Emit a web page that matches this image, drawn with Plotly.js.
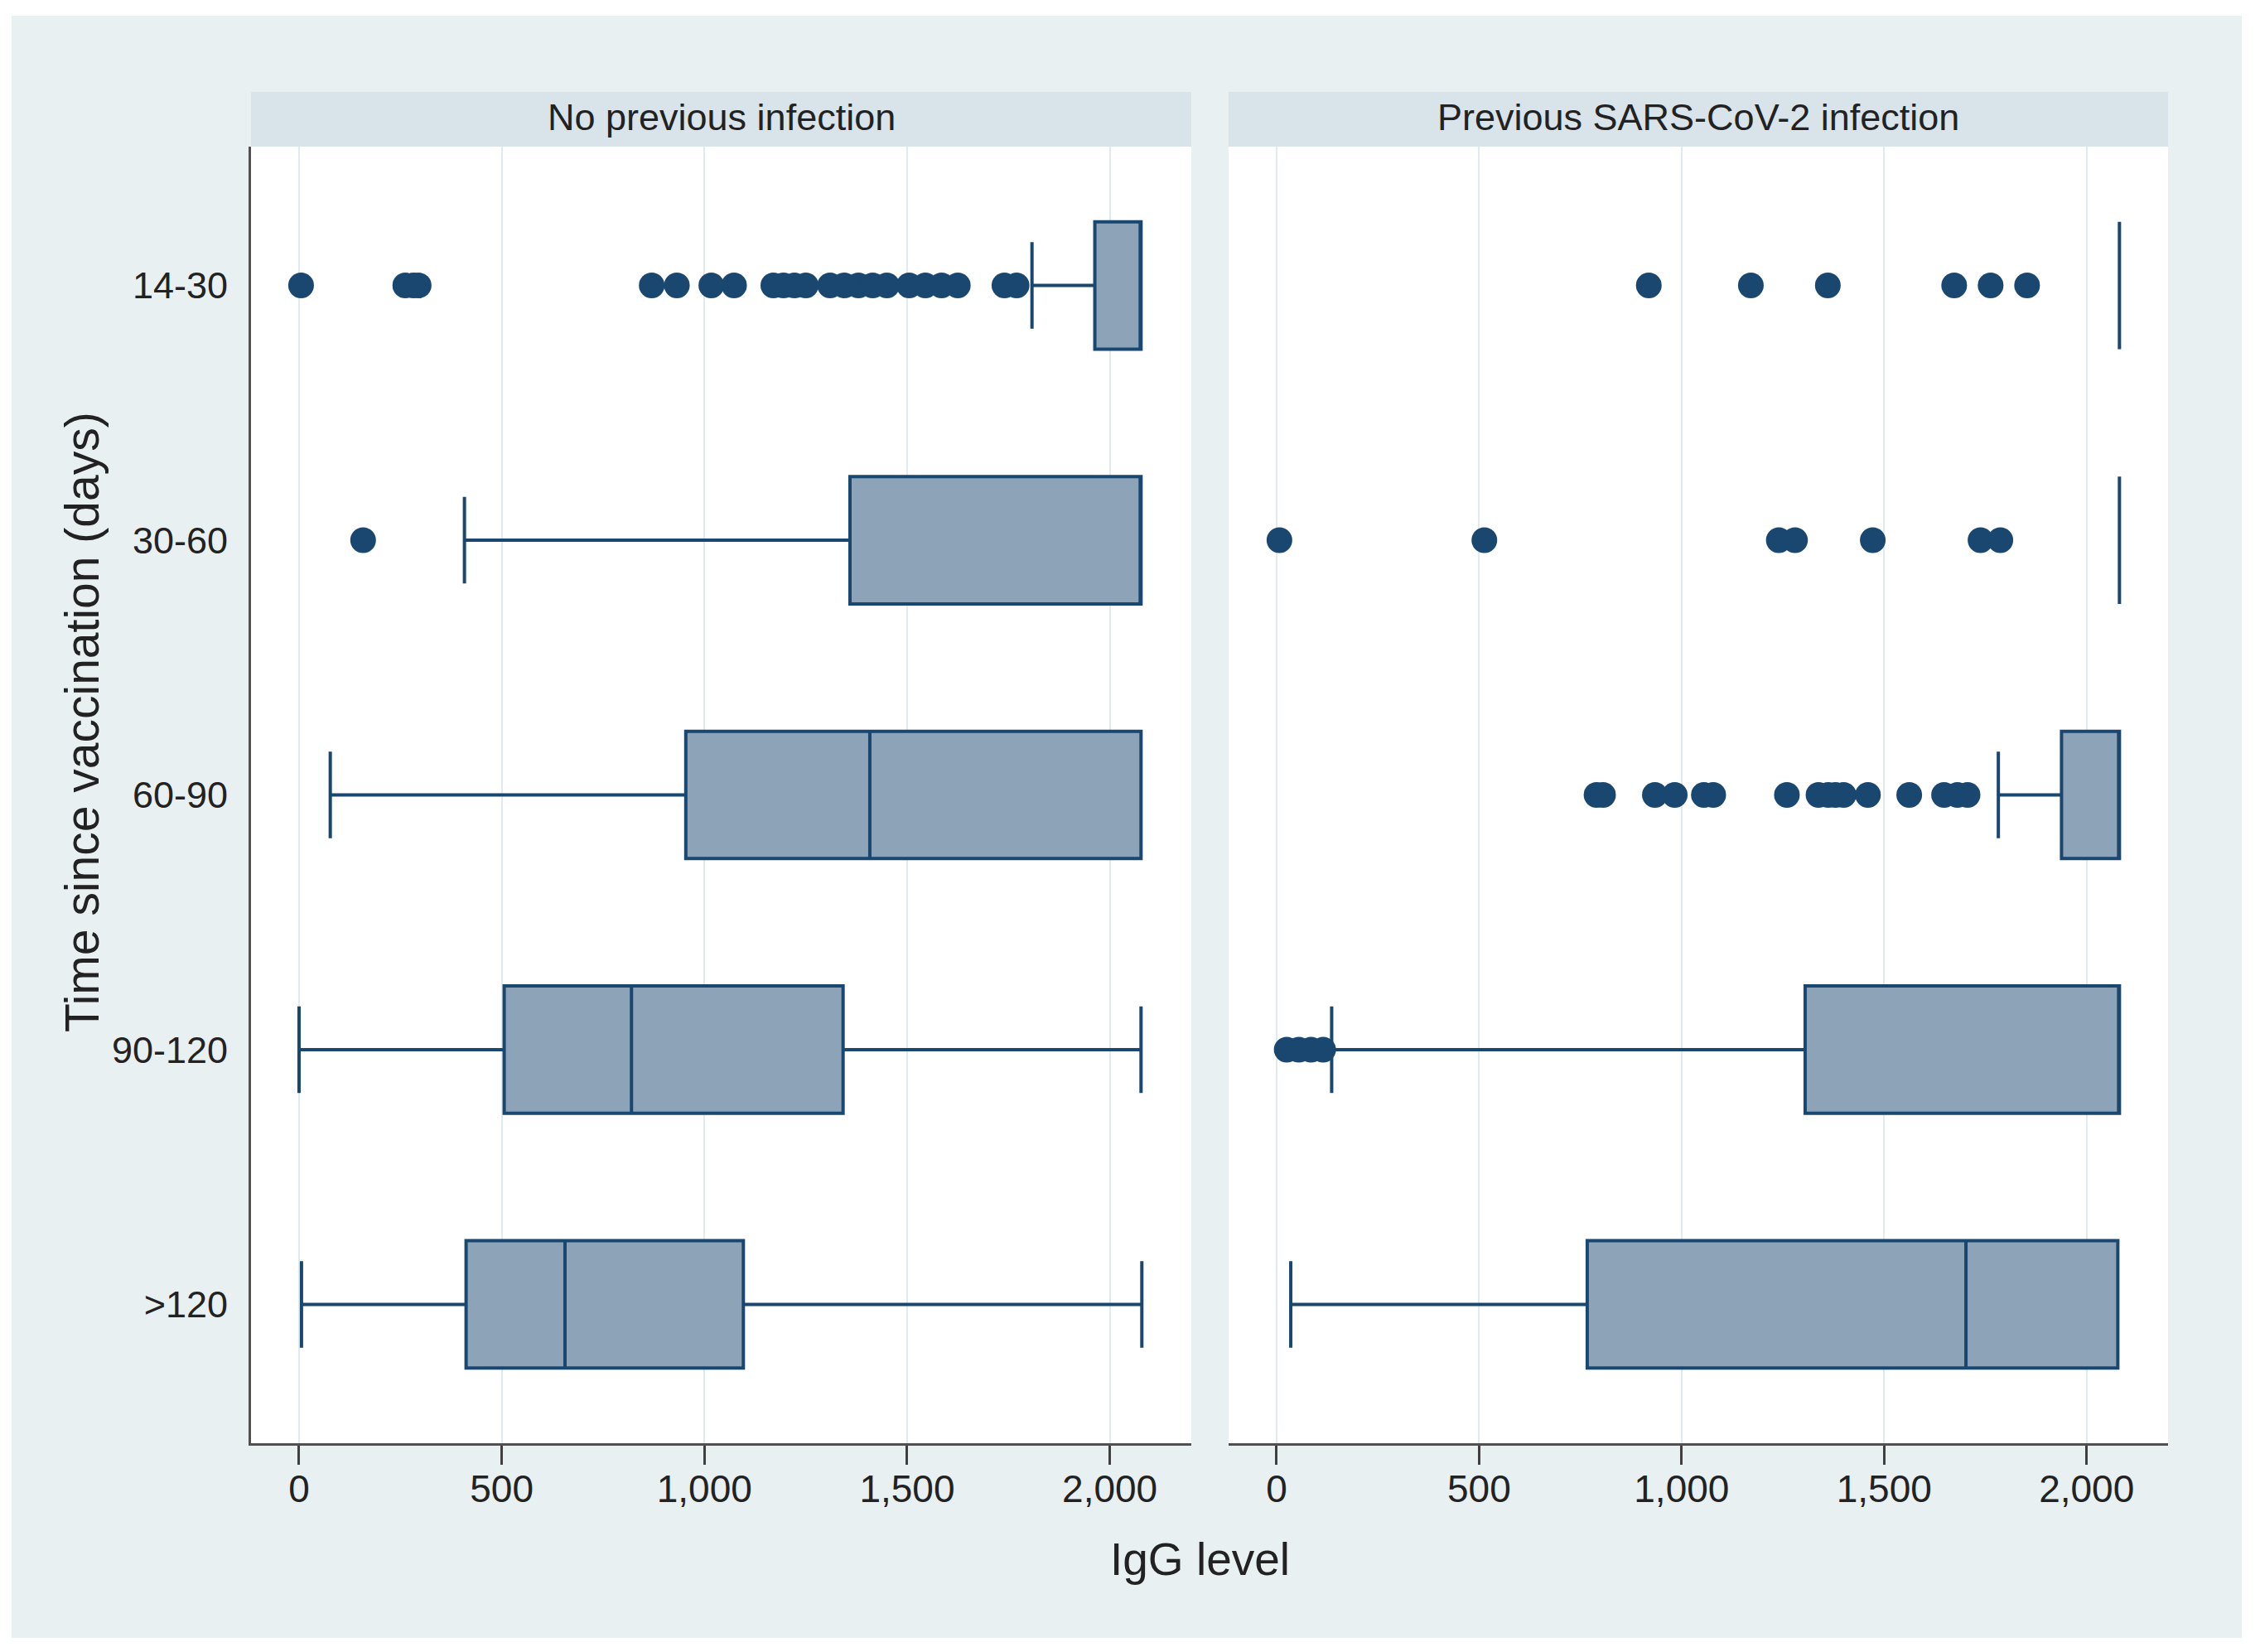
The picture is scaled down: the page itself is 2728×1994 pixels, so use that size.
<!DOCTYPE html>
<html>
<head>
<meta charset="utf-8">
<script src="https://cdn.plot.ly/plotly-3.0.1.min.js"></script>
<style>
  html, body { margin: 0; padding: 0; background: #ffffff; width: 2728px; height: 1994px; overflow: hidden; }
  #chart { position: absolute; left: 14px; top: 19px; width: 2692px; height: 1958px; }
</style>
</head>
<body>
<div id="chart"></div>
<script>
// ---- Data ----
const categories = ['14-30', '30-60', '60-90', '90-120', '>120'];
const panelTitles = ['No previous infection', 'Previous SARS-CoV-2 infection'];
const xTickVals = [0, 500, 1000, 1500, 2000];
const xTickText = ['0', '500', '1,000', '1,500', '2,000'];

// No previous infection: box statistics per category
const noPrevQ1     = [1963, 1359, 954, 506, 412];
const noPrevMedian = [2077, 2077, 1408, 820, 656];
const noPrevQ3     = [2077, 2077, 2077, 1342, 1096];
const noPrevLower  = [1808, 408, 77, 0, 6];
const noPrevUpper  = [2077, 2077, 2077, 2077, 2079];

// Previous SARS-CoV-2 infection: box statistics per category
const prevQ1     = [2081, 2081, 1938, 1305, 767];
const prevMedian = [2081, 2081, 2081, 2081, 1702];
const prevQ3     = [2081, 2081, 2081, 2081, 2077];
const prevLower  = [2081, 2081, 1782, 136, 35];
const prevUpper  = [2081, 2081, 2081, 2081, 2077];

// Outliers
const noPrevOut_14_30 = [5, 262, 282, 295, 870, 932, 1017, 1073, 1170, 1195, 1222, 1250, 1310, 1345, 1380, 1415, 1450, 1505, 1545, 1585, 1625, 1740, 1770];
const noPrevOut_30_60 = [158];
const prevOut_14_30 = [919, 1171, 1361, 1673, 1763, 1853];
const prevOut_30_60 = [7, 513, 1240, 1280, 1472, 1738, 1787];
const prevOut_60_90 = [790, 806, 934, 983, 1055, 1078, 1260, 1338, 1362, 1380, 1400, 1460, 1562, 1648, 1681, 1706];
const prevOut_90_120 = [25, 55, 85, 115];

// ---- Styling ----
const NAVY = '#1a476f';
const FILL = '#8da3b8';
const FONT = 'Liberation Sans, Arial, sans-serif';

function boxTrace(q1, med, q3, lo, hi, xa, ya) {
  return {
    type: 'box', orientation: 'h',
    y: categories, q1: q1, median: med, q3: q3, lowerfence: lo, upperfence: hi,
    xaxis: xa, yaxis: ya,
    width: 0.5, whiskerwidth: 0.68,
    fillcolor: FILL, line: { color: NAVY, width: 4 },
    boxpoints: false, showlegend: false, hoverinfo: 'skip'
  };
}
function outTrace(groups, xa, ya) {
  const xs = [], ys = [];
  groups.forEach(g => { g.vals.forEach(v => { xs.push(v); ys.push(g.cat); }); });
  return {
    type: 'scatter', mode: 'markers', x: xs, y: ys, xaxis: xa, yaxis: ya,
    marker: { color: NAVY, size: 31, line: { width: 0 } },
    showlegend: false, hoverinfo: 'skip'
  };
}

const traces = [
  boxTrace(noPrevQ1, noPrevMedian, noPrevQ3, noPrevLower, noPrevUpper, 'x', 'y'),
  boxTrace(prevQ1, prevMedian, prevQ3, prevLower, prevUpper, 'x2', 'y2'),
  outTrace([{cat: categories[0], vals: noPrevOut_14_30}, {cat: categories[1], vals: noPrevOut_30_60}], 'x', 'y'),
  outTrace([{cat: categories[0], vals: prevOut_14_30}, {cat: categories[1], vals: prevOut_30_60},
            {cat: categories[2], vals: prevOut_60_90}, {cat: categories[3], vals: prevOut_90_120}], 'x2', 'y2')
];

const W = 2692, H = 1958;
const mL = 289, mR = 89, mT = 158, mB = 235;
const plotW = W - mL - mR, plotH = H - mT - mB;
const dom1 = [0, (1424 - mL) / plotW];
const dom2 = [(1469 - mL) / plotW, 1];
const stripTop = 1 + 66 / plotH;

const xCommon = {
  range: [-118.5, 2201], tickvals: xTickVals, ticktext: xTickText,
  showgrid: true, gridcolor: '#e1eaee', gridwidth: 2, zeroline: false,
  showline: true, linecolor: '#505050', linewidth: 3,
  ticks: 'outside', ticklen: 23, tickwidth: 3, tickcolor: '#404040',
  ticklabelstandoff: -10,
  tickfont: { family: FONT, size: 46, color: '#222222' }, fixedrange: true
};
const yCommon = {
  type: 'category', categoryorder: 'array', categoryarray: categories,
  range: [4.545, -0.545], showgrid: false, zeroline: false,
  ticks: '', fixedrange: true,
  tickfont: { family: FONT, size: 45, color: '#222222' }
};

const layout = {
  width: W, height: H,
  paper_bgcolor: '#e8f0f2', plot_bgcolor: '#ffffff',
  margin: { l: mL, r: mR, t: mT, b: mB, pad: 0 },
  showlegend: false,
  xaxis: Object.assign({}, xCommon, { domain: dom1, anchor: 'y' }),
  xaxis2: Object.assign({}, xCommon, { domain: dom2, anchor: 'y2' }),
  yaxis: Object.assign({}, yCommon, { anchor: 'x', showline: true, linecolor: '#505050', linewidth: 3, ticklabelstandoff: 16 }),
  yaxis2: Object.assign({}, yCommon, { anchor: 'x2', showline: false, showticklabels: false }),
  shapes: [
    { type: 'rect', xref: 'paper', yref: 'paper', x0: dom1[0], x1: dom1[1], y0: 1, y1: stripTop,
      fillcolor: '#d8e4ea', line: { width: 0 }, layer: 'below' },
    { type: 'rect', xref: 'paper', yref: 'paper', x0: dom2[0], x1: dom2[1], y0: 1, y1: stripTop,
      fillcolor: '#d8e4ea', line: { width: 0 }, layer: 'below' }
  ],
  annotations: [
    { text: panelTitles[0], xref: 'paper', yref: 'paper', x: (dom1[0] + dom1[1]) / 2, y: 1 + 36 / plotH,
      xanchor: 'center', yanchor: 'middle', showarrow: false, font: { family: FONT, size: 45, color: '#222222' } },
    { text: panelTitles[1], xref: 'paper', yref: 'paper', x: (dom2[0] + dom2[1]) / 2, y: 1 + 36 / plotH,
      xanchor: 'center', yanchor: 'middle', showarrow: false, font: { family: FONT, size: 45, color: '#222222' } },
    { text: 'IgG level', xref: 'paper', yref: 'paper', x: (1434 - mL) / plotW, y: 1 - (1863 - mT) / plotH,
      xanchor: 'center', yanchor: 'middle', showarrow: false, font: { family: FONT, size: 55, color: '#222222' } },
    { text: 'Time since vaccination (days)', xref: 'paper', yref: 'paper', x: (85 - mL) / plotW, y: 1 - (853 - mT) / plotH,
      xanchor: 'center', yanchor: 'middle', textangle: -90, showarrow: false, font: { family: FONT, size: 57, color: '#222222' } }
  ]
};

Plotly.newPlot('chart', traces, layout, { staticPlot: true, displayModeBar: false });
</script>
</body>
</html>
